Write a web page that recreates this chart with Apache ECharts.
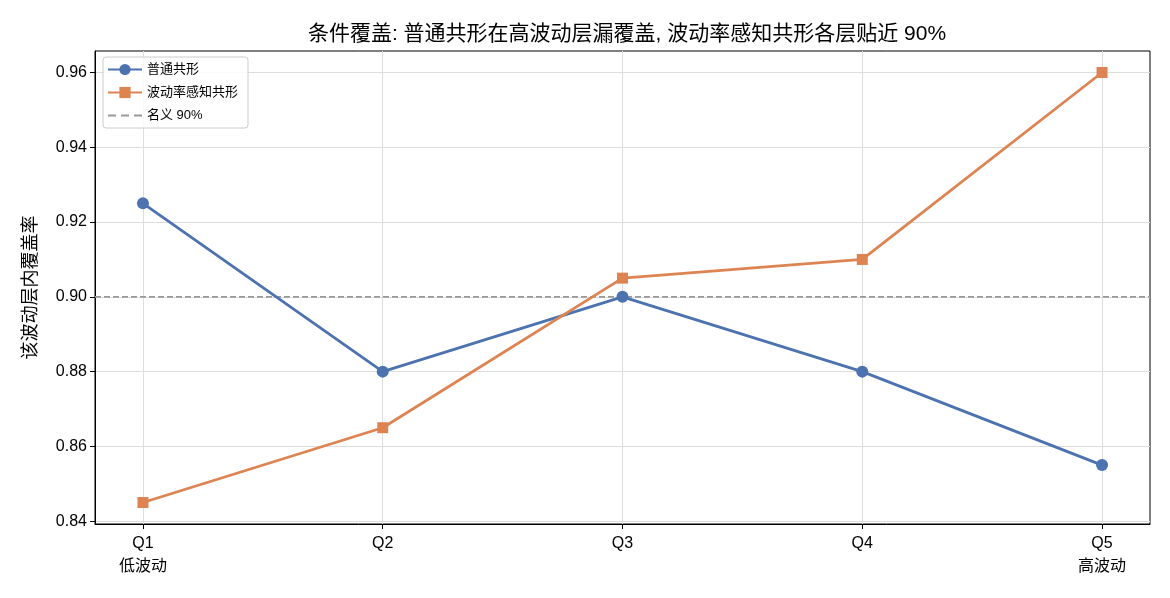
<!DOCTYPE html>
<html>
<head>
<meta charset="utf-8">
<script src="https://cdn.jsdelivr.net/npm/echarts@6/dist/echarts.min.js"></script>
<style>
  html, body { margin: 0; padding: 0; background: #fff; }
  #chart { width: 1170px; height: 598px; }
</style>
</head>
<body>
<div id="chart"></div>
<script>
// values
var quantiles = ["Q1\n低波动", "Q2", "Q3", "Q4", "Q5\n高波动"];
var plainConformal = [0.925, 0.88, 0.90, 0.88, 0.855];
var volAwareConformal = [0.845, 0.865, 0.905, 0.91, 0.96];
var nominal = 0.90;
var yTicks = [0.84, 0.86, 0.88, 0.90, 0.92, 0.94, 0.96];
var xTicks = [0, 1, 2, 3, 4];

var font = "Liberation Sans, Arial, Noto Sans CJK SC, sans-serif";

function toPoints(vals) {
    return vals.map(function (v, i) { return [i, v]; });
}

var myChart = echarts.init(document.getElementById("chart"), null, { renderer: "canvas" });

myChart.setOption({
    animation: false,
    textStyle: { fontFamily: font },
    title: {
        text: "条件覆盖: 普通共形在高波动层漏覆盖, 波动率感知共形各层贴近 90%",
        left: 622,
        textAlign: "center",
        top: 19,
        textStyle: { fontSize: 21, fontWeight: "normal", color: "#000", fontFamily: font }
    },
    grid: {
        left: 95,
        right: 20,
        top: 51,
        bottom: 74,
        show: true,
        borderColor: "#000",
        borderWidth: 1,
        backgroundColor: "transparent"
    },
    legend: {
        orient: "vertical",
        left: 103,
        top: 57,
        itemWidth: 34,
        itemHeight: 14,
        itemGap: 10,
        padding: [6, 10, 6, 4],
        borderColor: "#cccccc",
        borderWidth: 1,
        borderRadius: 3,
        backgroundColor: "rgba(255,255,255,0.85)",
        textStyle: { fontSize: 13, color: "#000", fontFamily: font },
        data: [
            "普通共形",
            "波动率感知共形",
            { name: "名义 90%", icon: "path://M0,0H8V2H0Z M13,0H21V2H13Z M26,0H34V2H26Z" }
        ]
    },
    xAxis: {
        type: "value",
        min: -0.2,
        max: 4.2,
        axisLine: { show: true, onZero: false, lineStyle: { color: "#000" } },
        axisTick: { show: true, customValues: xTicks, length: 5, lineStyle: { color: "#000" } },
        splitLine: { show: true, lineStyle: { color: "#dddddd", width: 1 } },
        axisLabel: {
            customValues: xTicks,
            color: "#000",
            fontSize: 16,
            lineHeight: 23,
            margin: 8,
            formatter: function (v) { return quantiles[Math.round(v)]; }
        }
    },
    yAxis: {
        type: "value",
        min: 0.83925,
        max: 0.96575,
        name: "该波动层内覆盖率",
        nameLocation: "middle",
        nameGap: 55,
        nameTextStyle: { fontSize: 18, color: "#000", fontFamily: font },
        axisLine: { show: true, onZero: false, lineStyle: { color: "#000" } },
        axisTick: { show: true, customValues: yTicks, length: 5, lineStyle: { color: "#000" } },
        splitLine: { show: true, lineStyle: { color: "#dddddd", width: 1 } },
        axisLabel: {
            customValues: yTicks,
            color: "#000",
            fontSize: 16,
            margin: 8,
            formatter: function (v) { return v.toFixed(2); }
        }
    },
    series: [
        {
            name: "名义 90%",
            type: "line",
            data: [[-0.2, nominal], [4.2, nominal]],
            showSymbol: false,
            symbol: "none",
            lineStyle: { color: "#999999", width: 1.6, type: [6, 3] },
            itemStyle: { color: "#999999" },
            z: 2
        },
        {
            name: "普通共形",
            type: "line",
            data: toPoints(plainConformal),
            symbol: "circle",
            symbolSize: 12,
            lineStyle: { color: "#4c72b0", width: 2.8 },
            itemStyle: { color: "#4c72b0", borderWidth: 0 },
            z: 3
        },
        {
            name: "波动率感知共形",
            type: "line",
            data: toPoints(volAwareConformal),
            symbol: "rect",
            symbolSize: 11,
            lineStyle: { color: "#dd8452", width: 2.8 },
            itemStyle: { color: "#dd8452", borderWidth: 0 },
            z: 3
        }
    ]
});
</script>
</body>
</html>
